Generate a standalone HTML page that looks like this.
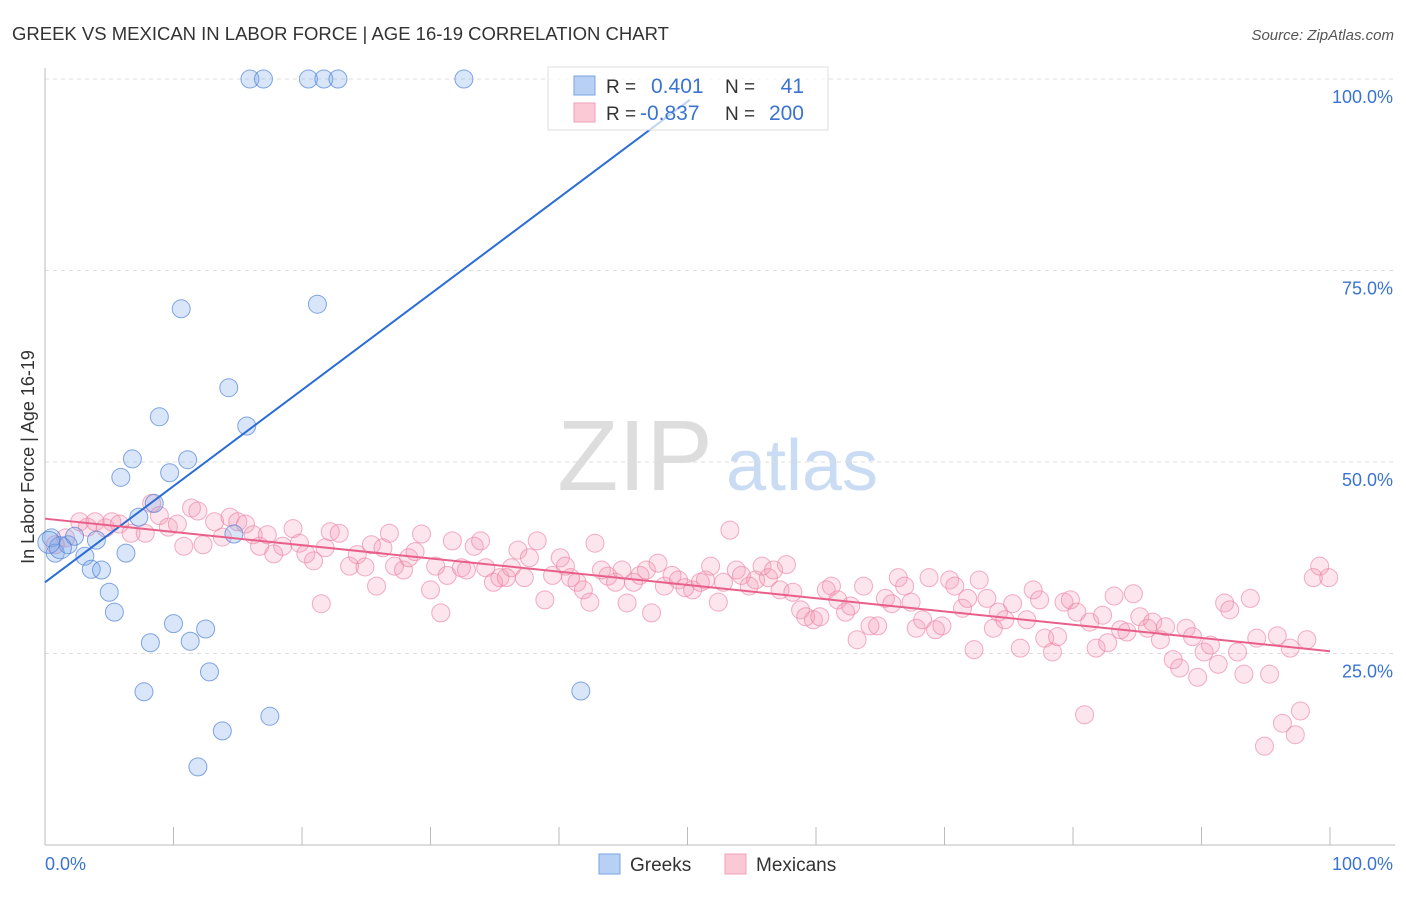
<!DOCTYPE html>
<html><head><meta charset="utf-8"><style>
body{margin:0;background:#fff;font-family:"Liberation Sans",sans-serif;}
svg text{font-family:"Liberation Sans",sans-serif;}
</style></head><body>
<svg id="chart" width="1406" height="892" xmlns="http://www.w3.org/2000/svg">
<text x="12" y="40" font-size="18.5" fill="#333">GREEK VS MEXICAN IN LABOR FORCE | AGE 16-19 CORRELATION CHART</text>
<text x="1394" y="40" font-size="15" fill="#555" text-anchor="end" font-style="italic">Source: ZipAtlas.com</text>
<g>
<text x="635" y="490" font-size="100" fill="#ddd" font-family="Liberation Serif, serif" text-anchor="middle">ZIP</text>
<text x="802" y="490" font-size="72" fill="#c9dcf3" text-anchor="middle">atlas</text>
</g>
<g id="grid"></g>
<g id="axes"></g>
<g id="marks"></g>
<text transform="translate(34,457) rotate(-90)" font-size="18" fill="#333" text-anchor="middle">In Labor Force | Age 16-19</text>
<g>
<rect x="548" y="67" width="280" height="63" fill="rgba(255,255,255,0.7)" stroke="#ddd"/>
<rect x="574" y="76" width="21" height="19" fill="#b8d0f4" stroke="#7aa3e0"/>
<rect x="574" y="103" width="21" height="19" fill="#fbc8d6" stroke="#f0a0b8"/>
<text x="606" y="93" font-size="19" fill="#333">R =</text>
<text x="651" y="93" font-size="21" fill="#3a74d0">0.401</text>
<text x="725" y="93" font-size="19" fill="#333">N =</text>
<text x="804" y="93" font-size="21" fill="#3a74d0" text-anchor="end">41</text>
<text x="606" y="120" font-size="19" fill="#333">R =</text>
<text x="640" y="120" font-size="21" fill="#3a74d0">-0.837</text>
<text x="725" y="120" font-size="19" fill="#333">N =</text>
<text x="804" y="120" font-size="21" fill="#3a74d0" text-anchor="end">200</text>
</g>
<g>
<rect x="599" y="854" width="21" height="20" fill="#b8d0f4" stroke="#7aa3e0"/>
<text x="630" y="871" font-size="19" fill="#333">Greeks</text>
<rect x="725" y="854" width="21" height="20" fill="#fbc8d6" stroke="#f0a0b8"/>
<text x="756" y="871" font-size="19" fill="#333">Mexicans</text>
</g>
</svg>
<script>
const yTicks=[25,50,75,100];
const yTickLabels=["25.0%","50.0%","75.0%","100.0%"];
const xTicks=[0,10,20,30,40,50,60,70,80,90,100];
const greekX=[15.95,17.0,20.5,21.7,22.8,32.6,10.6,21.2,14.3,8.9,15.7,6.8,11.1,9.7,5.9,8.5,7.3,14.7,0.5,0.8,1.8,2.3,4.0,3.1,6.3,3.6,4.4,5.0,5.4,8.2,10.0,11.3,12.5,12.8,7.7,17.5,13.8,11.9,41.7,1.2,0.3];
const greekY=[100,100,100,100,100,100,70.0,70.6,59.7,55.9,54.7,50.4,50.3,48.6,48.0,44.6,42.8,40.6,40.1,38.1,39.2,40.3,39.8,37.7,38.1,36.0,35.9,33.0,30.4,26.4,28.9,26.6,28.2,22.6,20.0,16.8,14.9,10.2,20.1,38.8,39.5];
const mexX=[0.8,1.6,2.7,3.3,3.9,4.7,5.2,5.8,6.7,7.8,8.3,8.9,9.6,10.3,10.8,11.4,11.9,12.3,13.2,13.8,14.4,15.0,15.6,16.2,16.7,17.3,17.8,18.5,19.3,19.8,20.3,20.9,21.5,21.8,22.2,22.9,23.7,24.3,24.9,25.4,25.8,26.3,26.8,27.2,27.9,28.3,28.8,29.3,30.0,30.4,30.8,31.3,31.7,32.4,32.8,33.4,33.9,34.3,34.9,35.4,35.9,36.3,36.8,37.3,37.7,38.3,38.9,39.5,40.1,40.5,40.9,41.4,41.9,42.4,42.8,43.3,43.8,44.4,44.9,45.3,45.8,46.3,46.8,47.2,47.7,48.2,48.8,49.3,49.8,50.4,51.0,51.4,51.8,52.4,52.8,53.3,53.8,54.2,54.8,55.3,55.8,56.3,56.7,57.2,57.7,58.2,58.8,59.2,59.8,60.3,60.8,61.2,61.7,62.3,62.7,63.2,63.7,64.2,64.8,65.4,65.9,66.4,66.9,67.4,67.8,68.3,68.8,69.3,69.8,70.4,70.8,71.4,71.8,72.3,72.7,73.3,73.8,74.2,74.7,75.3,75.9,76.4,76.9,77.4,77.8,78.4,78.8,79.3,79.8,80.3,80.9,81.3,81.8,82.3,82.7,83.2,83.7,84.2,84.7,85.2,85.8,86.2,86.8,87.2,87.8,88.3,88.8,89.3,89.7,90.2,90.7,91.3,91.8,92.2,92.8,93.3,93.8,94.3,94.9,95.3,95.9,96.3,96.9,97.3,97.7,98.2,98.7,99.2,99.9];
const mexY=[39.2,40.1,42.2,41.5,42.2,41.4,42.2,41.9,40.7,40.7,44.6,43.0,41.5,41.9,39.0,44.0,43.6,39.2,42.2,40.2,42.8,42.2,41.9,40.5,39.0,40.5,38.0,39.0,41.3,39.4,38.0,37.1,31.5,38.8,40.9,40.7,36.4,37.9,36.3,39.2,33.8,38.8,40.7,36.4,35.9,37.5,38.3,40.6,33.3,36.4,30.3,35.2,39.7,36.2,35.9,39.0,39.7,36.2,34.3,34.9,34.9,36.2,38.5,34.9,37.5,39.7,32.0,35.2,37.5,36.4,34.9,34.3,33.3,31.7,39.4,35.9,35.1,34.3,35.9,31.6,34.3,35.2,35.9,30.3,36.8,33.8,35.2,34.6,33.6,33.3,34.3,34.6,36.4,31.7,34.3,41.1,35.9,35.2,33.8,34.6,36.4,34.9,35.9,33.3,36.6,33.0,30.7,29.8,29.4,29.8,33.3,33.8,32.0,30.4,31.2,26.8,33.8,28.6,28.6,32.2,31.5,34.9,33.8,31.7,28.3,29.4,34.9,28.1,28.6,34.6,33.8,30.9,32.2,25.5,34.6,32.2,28.3,30.4,29.4,31.5,25.7,29.4,33.3,32.0,27.0,25.2,27.2,31.7,32.0,30.4,17.0,29.1,25.7,30.0,26.4,32.5,28.1,27.8,32.8,29.8,28.3,29.1,26.8,28.5,24.2,23.1,28.3,27.2,21.9,25.2,26.1,23.6,31.6,30.7,25.2,22.3,32.2,27.0,12.9,22.3,27.3,15.9,25.7,14.4,17.5,26.8,34.9,36.4,34.9];
const greekTrend=[[0,34.3],[50.2,97.3]];
const mexTrend=[[0,42.6],[100,25.3]];
const NS="http://www.w3.org/2000/svg";
const X0=45,X1=1330,Y0=845,Y100=79;
function sx(v){return X0+v*(X1-X0)/100;}
function sy(v){return Y0-v*(Y0-Y100)/100;}
function mk(tag,attrs,parent){const e=document.createElementNS(NS,tag);for(const k in attrs)e.setAttribute(k,attrs[k]);parent.appendChild(e);return e;}
const grid=document.getElementById('grid'),axes=document.getElementById('axes'),marks=document.getElementById('marks');
yTicks.forEach((t,i)=>{
 const l=mk('line',{x1:X0,x2:1395,y1:sy(t),y2:sy(t),stroke:'#ddd','stroke-dasharray':'4,4'},grid);
 
 
 const tx=mk('text',{x:1393,y:sy(t)+24,'font-size':18,fill:'#3a74d0','text-anchor':'end'},axes);
 tx.textContent=yTickLabels[i];
 
 
});
const ax=mk('line',{x1:X0,x2:X0,y1:68,y2:Y0,stroke:'#bbb'},axes);


const bx=mk('line',{x1:X0,x2:1395,y1:Y0,y2:Y0,stroke:'#bbb'},axes);


xTicks.forEach(t=>{
 const l=mk('line',{x1:sx(t),x2:sx(t),y1:Y0-18,y2:Y0,stroke:'#bbb'},axes);
 
 
});
const xl0=mk('text',{x:45,y:870,'font-size':18,fill:'#3a74d0'},axes);xl0.textContent='0.0%';


const xl1=mk('text',{x:1393,y:870,'font-size':18,fill:'#3a74d0','text-anchor':'end'},axes);xl1.textContent='100.0%';


mexX.forEach((v,i)=>{
 const c=mk('circle',{cx:sx(v),cy:sy(mexY[i]),r:9,fill:'rgba(244,150,180,0.25)',stroke:'rgba(236,130,165,0.65)','stroke-width':1},marks);
 
 
});
greekX.forEach((v,i)=>{
 const c=mk('circle',{cx:sx(v),cy:sy(greekY[i]),r:i>=39?11:9,fill:'rgba(120,165,235,0.28)',stroke:'rgba(80,130,215,0.7)','stroke-width':1},marks);
 
 
});
const gt=mk('line',{x1:sx(greekTrend[0][0]),y1:sy(greekTrend[0][1]),x2:sx(greekTrend[1][0]),y2:sy(greekTrend[1][1]),stroke:'#2a6dd6','stroke-width':2},marks);


const mt=mk('line',{x1:sx(mexTrend[0][0]),y1:sy(mexTrend[0][1]),x2:sx(mexTrend[1][0]),y2:sy(mexTrend[1][1]),stroke:'#e8608a','stroke-width':2},marks);


</script>
</body></html>
